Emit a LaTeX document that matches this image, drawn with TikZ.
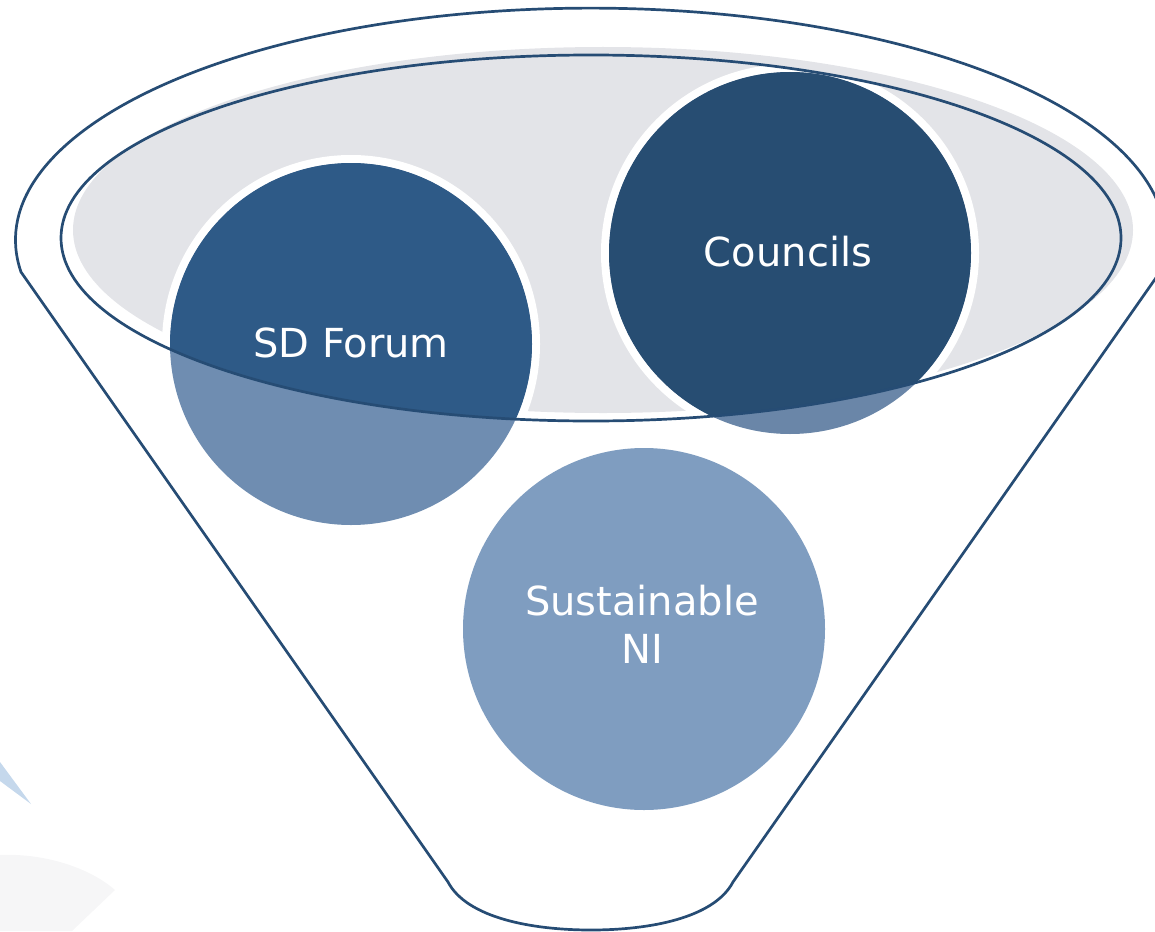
\documentclass[tikz,border=0pt]{standalone}
\usepackage{fontspec}
\setmainfont{DejaVu Sans}
\definecolor{rimblue}{HTML}{264C74}
\definecolor{forumblue}{HTML}{2E5A87}
\definecolor{forumpale}{HTML}{6F8DB1}
\definecolor{councilblue}{HTML}{274D72}
\definecolor{councilpale}{HTML}{6A86A8}
\definecolor{sustpale}{HTML}{7F9DC0}
\definecolor{discgray}{HTML}{E3E4E8}
\definecolor{shardblue}{HTML}{C5D8EC}
\definecolor{fadegray}{HTML}{F6F6F7}
\tikzset{
    rim/.style={ % outline of funnel and bowl
        draw=rimblue,
        line width=2.7pt
    },
    whitering/.style={draw=white, line width=8pt}, % white edge of the upper circles
    circletext/.style={ % white words in the circles
        text=white,
        font=\fontsize{40}{48}\selectfont,
        align=center,
        inner sep=0pt
    }
}
\begin{document}
\begin{tikzpicture}[x=1pt, y=-1pt]
        \useasboundingbox (0,0) rectangle (1155,931);
        % background scraps
        \fill[shardblue] (0,762) -- (31,804) -- (0,781) -- cycle;
        \fill[fadegray] (0,855) .. controls (45,853) and (90,868) .. (115,890)
                -- (72,931) -- (0,931) -- cycle;
        % funnel
        \draw[rim] (21,272) arc[start angle=172.1, end angle=367.9,
                                x radius=575, y radius=232]
                -- (733,882) .. controls (714,918) and (650,930) .. (591,930)
                .. controls (532,930) and (467,918) .. (448,882) -- cycle;
        % bowl
        \fill[discgray] (603,230) ellipse[x radius=530, y radius=183];
        % circles
        \fill[sustpale]    (644,629) circle[radius=181];
        \fill[forumpale]   (351,344) circle[radius=181];
        \fill[councilpale] (790,253) circle[radius=181];
        \begin{scope}
                \clip (591,238) ellipse[x radius=530, y radius=183];
                \draw[whitering] (351,344) circle[radius=185];
                \draw[whitering] (790,253) circle[radius=185];
                \fill[forumblue]   (351,344) circle[radius=181];
                \fill[councilblue] (790,253) circle[radius=181];
        \end{scope}
        \draw[rim] (591,238) ellipse[x radius=530, y radius=183];
        % words
        \node[circletext] (sdforum)  at (351,343) {SD Forum};
        \node[circletext] (councils) at (788,252) {Councils};
        \node[circletext] (sustni)   at (642,624) {Sustainable\\NI};
\end{tikzpicture}
\end{document}
